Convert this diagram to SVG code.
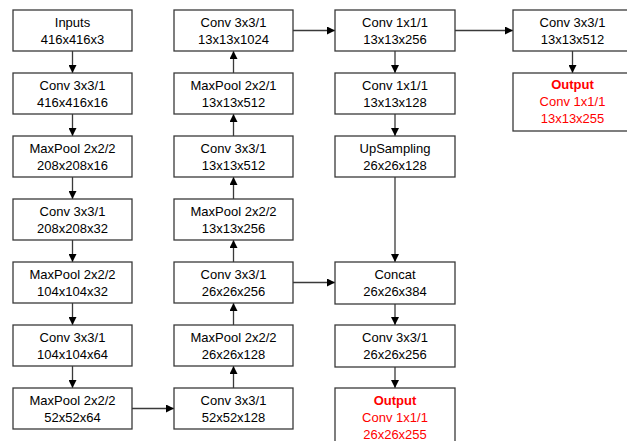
<svg xmlns="http://www.w3.org/2000/svg" width="627" height="441" viewBox="0 0 627 441">
<style>
rect.b{fill:#fff;stroke:#3a3a3a;stroke-width:1.3}
text{font-family:"Liberation Sans",Arial,sans-serif;font-size:13px;fill:#000;text-anchor:middle}
text.r{fill:#ff0000}
text.rb{fill:#ff0000;font-weight:bold}
#connectors line{stroke:#3a3a3a;stroke-width:1.3;marker-end:url(#ah)}
</style>
<defs>
<marker id="ah" markerWidth="8" markerHeight="8" refX="6" refY="3" orient="auto" markerUnits="userSpaceOnUse" viewBox="0 0 6 6">
<path d="M0,0 L6,3 L0,6 Z" fill="#000"/>
</marker>
</defs>
<rect width="627" height="441" fill="#fff"/>
<g id="connectors">
<line x1="72.5" y1="51" x2="72.5" y2="73"/>
<line x1="72.5" y1="114" x2="72.5" y2="136"/>
<line x1="72.5" y1="177" x2="72.5" y2="199"/>
<line x1="72.5" y1="240" x2="72.5" y2="262"/>
<line x1="72.5" y1="303" x2="72.5" y2="325"/>
<line x1="72.5" y1="366" x2="72.5" y2="388"/>
<line x1="132" y1="408.5" x2="174" y2="408.5"/>
<line x1="233.5" y1="388" x2="233.5" y2="366"/>
<line x1="233.5" y1="325" x2="233.5" y2="303"/>
<line x1="233.5" y1="262" x2="233.5" y2="240"/>
<line x1="233.5" y1="199" x2="233.5" y2="177"/>
<line x1="233.5" y1="136" x2="233.5" y2="114"/>
<line x1="233.5" y1="73" x2="233.5" y2="51"/>
<line x1="293" y1="30.5" x2="335" y2="30.5"/>
<line x1="455" y1="30.5" x2="513" y2="30.5"/>
<line x1="572.5" y1="51" x2="572.5" y2="73"/>
<line x1="395" y1="51" x2="395" y2="73"/>
<line x1="395" y1="114" x2="395" y2="136"/>
<line x1="395" y1="177" x2="395" y2="262"/>
<line x1="293" y1="282.5" x2="335" y2="282.5"/>
<line x1="395" y1="303" x2="395" y2="325"/>
<line x1="395" y1="366" x2="395" y2="388"/>
</g>
<g id="n1"><rect class="b" x="13" y="10" width="119" height="41"/><text x="72.5" y="27">Inputs</text><text x="72.5" y="44">416x416x3</text></g>
<g id="n2"><rect class="b" x="13" y="73" width="119" height="41"/><text x="72.5" y="90">Conv 3x3/1</text><text x="72.5" y="107">416x416x16</text></g>
<g id="n3"><rect class="b" x="13" y="136" width="119" height="41"/><text x="72.5" y="153">MaxPool 2x2/2</text><text x="72.5" y="170">208x208x16</text></g>
<g id="n4"><rect class="b" x="13" y="199" width="119" height="41"/><text x="72.5" y="216">Conv 3x3/1</text><text x="72.5" y="233">208x208x32</text></g>
<g id="n5"><rect class="b" x="13" y="262" width="119" height="41"/><text x="72.5" y="279">MaxPool 2x2/2</text><text x="72.5" y="296">104x104x32</text></g>
<g id="n6"><rect class="b" x="13" y="325" width="119" height="41"/><text x="72.5" y="342">Conv 3x3/1</text><text x="72.5" y="359">104x104x64</text></g>
<g id="n7"><rect class="b" x="13" y="388" width="119" height="41"/><text x="72.5" y="405">MaxPool 2x2/2</text><text x="72.5" y="422">52x52x64</text></g>
<g id="n8"><rect class="b" x="174" y="388" width="119" height="41"/><text x="233.5" y="405">Conv 3x3/1</text><text x="233.5" y="422">52x52x128</text></g>
<g id="n9"><rect class="b" x="174" y="325" width="119" height="41"/><text x="233.5" y="342">MaxPool 2x2/2</text><text x="233.5" y="359">26x26x128</text></g>
<g id="n10"><rect class="b" x="174" y="262" width="119" height="41"/><text x="233.5" y="279">Conv 3x3/1</text><text x="233.5" y="296">26x26x256</text></g>
<g id="n11"><rect class="b" x="174" y="199" width="119" height="41"/><text x="233.5" y="216">MaxPool 2x2/2</text><text x="233.5" y="233">13x13x256</text></g>
<g id="n12"><rect class="b" x="174" y="136" width="119" height="41"/><text x="233.5" y="153">Conv 3x3/1</text><text x="233.5" y="170">13x13x512</text></g>
<g id="n13"><rect class="b" x="174" y="73" width="119" height="41"/><text x="233.5" y="90">MaxPool 2x2/1</text><text x="233.5" y="107">13x13x512</text></g>
<g id="n14"><rect class="b" x="174" y="10" width="119" height="41"/><text x="233.5" y="27">Conv 3x3/1</text><text x="233.5" y="44">13x13x1024</text></g>
<g id="n15"><rect class="b" x="335" y="10" width="120" height="41"/><text x="395" y="27">Conv 1x1/1</text><text x="395" y="44">13x13x256</text></g>
<g id="n16"><rect class="b" x="335" y="73" width="120" height="41"/><text x="395" y="90">Conv 1x1/1</text><text x="395" y="107">13x13x128</text></g>
<g id="n17"><rect class="b" x="335" y="136" width="120" height="41"/><text x="395" y="153">UpSampling</text><text x="395" y="170">26x26x128</text></g>
<g id="n18"><rect class="b" x="335" y="262" width="120" height="42"/><text x="395" y="279">Concat</text><text x="395" y="296">26x26x384</text></g>
<g id="n19"><rect class="b" x="335" y="325" width="120" height="42"/><text x="395" y="342">Conv 3x3/1</text><text x="395" y="359">26x26x256</text></g>
<g id="n20"><rect class="b" x="335" y="388" width="120" height="58"/><text class="rb" x="395" y="405">Output</text><text class="r" x="395" y="422">Conv 1x1/1</text><text class="r" x="395" y="439">26x26x255</text></g>
<g id="n21"><rect class="b" x="513" y="10" width="119" height="41"/><text x="572.5" y="27">Conv 3x3/1</text><text x="572.5" y="44">13x13x512</text></g>
<g id="n22"><rect class="b" x="513" y="73" width="119" height="58"/><text class="rb" x="572.5" y="89">Output</text><text class="r" x="572.5" y="106">Conv 1x1/1</text><text class="r" x="572.5" y="123">13x13x255</text></g>
</svg>
